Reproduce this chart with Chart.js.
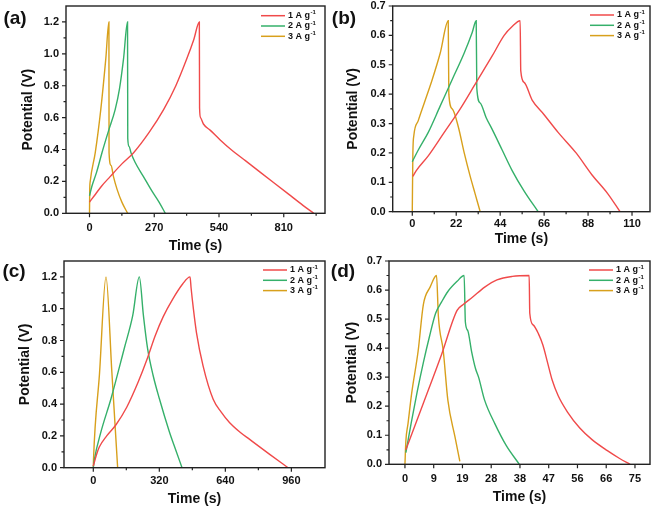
<!DOCTYPE html>
<html>
<head>
<meta charset="utf-8">
<script src="https://cdn.jsdelivr.net/npm/chart.js@4.4.0/dist/chart.umd.min.js"></script>
<style>
  html, body { margin: 0; padding: 0; background: #fff; }
  #wrap { position: relative; width: 653px; height: 509px; overflow: hidden; }
  #wrap canvas { position: absolute; left: 0; top: 0; }
</style>
</head>
<body>
<div id="wrap">
  <canvas id="pa" width="653" height="509"></canvas>
  <canvas id="pb" width="653" height="509"></canvas>
  <canvas id="pc" width="653" height="509"></canvas>
  <canvas id="pd" width="653" height="509"></canvas>
</div>
<script>
// series names and colours
var seriesLabels = ['1 A g', '2 A g', '3 A g'];
var seriesColors = ['#f04a4a', '#35b06a', '#d8a01c'];

// (a) time (s), potential (V)
var a1 = [[0,0.07],[20,0.11],[50,0.17],[86,0.23],[135,0.31],[184,0.38],[250,0.51],[309,0.65],[360,0.8],[406,0.97],[435,1.09],[458,1.2],
          [459,0.66],[463,0.6],[475,0.56],[504,0.52],[545,0.46],[590,0.4],[650,0.33],[710,0.26],[770,0.19],[830,0.12],[890,0.05],[935,0]];
var a2 = [[0,0.11],[10,0.17],[30,0.26],[52,0.38],[80,0.52],[107,0.65],[125,0.78],[142,0.97],[158.6,1.2],
          [159.5,0.47],[165,0.42],[173,0.38],[190,0.32],[225,0.23],[260,0.14],[290,0.07],[316,0]];
var a3 = [[0,0],[1,0.15],[3,0.2],[24,0.38],[47,0.65],[68,0.97],[81,1.2],
          [81.5,0.38],[90,0.3],[100,0.23],[115,0.15],[135,0.07],[159,0]];

// (b)
var b1 = [[0.3,0.12],[2,0.14],[8,0.19],[16,0.27],[24,0.35],[32,0.44],[40,0.53],[46,0.6],[50,0.63],[54,0.65],
          [54.3,0.48],[56,0.44],[60,0.38],[66,0.33],[73,0.27],[82,0.2],[90,0.125],[98,0.06],[104,0]];
var b2 = [[0,0.17],[3,0.21],[8,0.27],[14,0.36],[20,0.45],[26,0.54],[30,0.61],[32,0.65],
          [32.3,0.42],[34,0.37],[37,0.32],[40,0.28],[45,0.21],[50,0.14],[56,0.07],[63,0]];
var b3 = [[0,0],[0.3,0.2],[0.8,0.26],[3,0.31],[6,0.37],[10,0.45],[14,0.54],[18,0.65],
          [18.3,0.4],[20,0.35],[23,0.29],[26,0.2],[29,0.12],[31.5,0.06],[34,0]];

// (c)
var c1 = [[0,0.01],[15,0.08],[29,0.13],[65,0.2],[110,0.27],[162,0.38],[218,0.54],[260,0.68],[300,0.83],[339,0.95],[385,1.06],[433,1.155],[469,1.2],
          [474,1.13],[485,1.0],[500,0.85],[532,0.64],[581,0.43],[620,0.35],[661,0.283],[710,0.225],[758,0.178],[855,0.084],[944,0]];
var c2 = [[0,0],[5,0.05],[37,0.225],[86,0.435],[150,0.75],[191,0.956],[223,1.2],
          [243,0.956],[263,0.75],[290,0.58],[320,0.435],[369,0.225],[400,0.11],[430,0]];
var c3 = [[0,0],[1,0.05],[30,0.59],[61.6,1.2],
          [90,0.6],[118,0]];

// (d)
var d1 = [[0.3,0.05],[6,0.21],[12,0.38],[17,0.53],[19,0.55],[22,0.575],[26,0.61],[30,0.635],[35,0.647],[40.5,0.65],
          [40.7,0.52],[41.8,0.48],[43.5,0.45],[45,0.41],[46.5,0.35],[48,0.29],[50,0.235],[53,0.18],[57,0.125],[61,0.085],[66,0.047],[70,0.02],[73.4,0]];
var d2 = [[0.3,0.04],[2,0.14],[4,0.25],[6,0.35],[8,0.44],[10,0.52],[12,0.56],[14,0.595],[17,0.63],[19.3,0.65],
          [19.7,0.49],[20.5,0.46],[21.7,0.39],[23,0.33],[24,0.3],[26,0.22],[29.3,0.14],[33,0.065],[37.3,0]];
var d3 = [[0,0],[0.3,0.08],[1,0.14],[2.2,0.245],[4.3,0.39],[6,0.55],[8.2,0.61],[10.3,0.65],
          [10.9,0.51],[12.5,0.39],[14,0.22],[16.3,0.095],[17.9,0.01]];

// tick values
var aXTicks = [0, 270, 540, 810], aXMinor = [135, 405, 675, 945];
var bXTicks = [0, 22, 44, 66, 88, 110], bXMinor = [11, 33, 55, 77, 99];
var cXTicks = [0, 320, 640, 960], cXMinor = [160, 480, 800];
var dXTicks = [0, 9.375, 18.75, 28.125, 37.5, 46.875, 56.25, 65.625, 75], dXMinor = [];
var bigYTicks = [0, 0.2, 0.4, 0.6, 0.8, 1.0, 1.2], bigYMinor = [0.1, 0.3, 0.5, 0.7, 0.9, 1.1];
var smallYTicks = [0, 0.1, 0.2, 0.3, 0.4, 0.5, 0.6, 0.7], smallYMinor = [0.05, 0.15, 0.25, 0.35, 0.45, 0.55, 0.65];

var FONT = "'Liberation Sans', Arial, sans-serif";

// box, outward ticks, panel tag and legend
var panelDeco = {
  id: 'panelDeco',
  afterDraw: function (chart) {
    var p = chart.options.plugins.panelDeco;
    var ctx = chart.ctx, ca = chart.chartArea;
    var xs = chart.scales.x, ys = chart.scales.y;
    ctx.save();
    ctx.strokeStyle = '#222';
    ctx.lineWidth = 1.4;
    ctx.strokeRect(ca.left, ca.top, ca.right - ca.left, ca.bottom - ca.top);

    ctx.lineWidth = 1.2;
    ctx.beginPath();
    p.xMajor.concat(p.xMinor).forEach(function (v, i) {
      var len = i < p.xMajor.length ? 4 : 2.5;
      var px = xs.getPixelForValue(v);
      ctx.moveTo(px, ca.bottom);
      ctx.lineTo(px, ca.bottom + len);
    });
    p.yMajor.concat(p.yMinor).forEach(function (v, i) {
      var len = i < p.yMajor.length ? 4 : 2.5;
      var py = ys.getPixelForValue(v);
      ctx.moveTo(ca.left, py);
      ctx.lineTo(ca.left - len, py);
    });
    ctx.stroke();

    // panel tag
    ctx.fillStyle = '#111';
    ctx.font = 'bold 19px ' + FONT;
    ctx.textAlign = 'center';
    ctx.textBaseline = 'middle';
    ctx.fillText(p.tag, p.tagX, p.tagY);

    // legend
    ctx.textAlign = 'left';
    seriesLabels.forEach(function (lab, i) {
      var y = p.legY + i * 10.3;
      ctx.strokeStyle = seriesColors[i];
      ctx.lineWidth = 1.5;
      ctx.beginPath();
      ctx.moveTo(p.legX, y);
      ctx.lineTo(p.legX + 24, y);
      ctx.stroke();
      ctx.fillStyle = '#111';
      ctx.font = 'bold 9px ' + FONT;
      ctx.textBaseline = 'middle';
      ctx.fillText(lab, p.legX + 27, y);
      var w = ctx.measureText(lab).width;
      ctx.font = 'bold 6px ' + FONT;
      ctx.fillText('-1', p.legX + 27 + w + 0.5, y - 3);
    });
    ctx.restore();
  }
};

function makePanel(id, p) {
  var yw = 60;
  var left = p.box[0], right = p.box[1], top = p.box[2], bottom = p.box[3];
  var xh = p.xTitleOff + 10;
  var ctx = document.getElementById(id).getContext('2d');
  new Chart(ctx, {
    type: 'line',
    data: {
      datasets: p.series.map(function (s, i) {
        return {
          label: seriesLabels[i],
          data: s.map(function (pt) { return { x: pt[0], y: pt[1] }; }),
          borderColor: seriesColors[i],
          backgroundColor: seriesColors[i],
          borderWidth: 1.4,
          pointRadius: 0,
          cubicInterpolationMode: 'monotone',
          fill: false
        };
      })
    },
    options: {
      responsive: false,
      animation: false,
      layout: { padding: { left: left - yw, right: 653 - right, top: top, bottom: 509 - bottom - xh } },
      plugins: {
        legend: { display: false },
        tooltip: { enabled: false },
        panelDeco: {
          tag: p.tag, tagX: p.tagX, tagY: p.tagY, legX: p.legX, legY: p.legY,
          xMajor: p.xTicks, xMinor: p.xMinor, yMajor: p.yTicks, yMinor: p.yMinor
        }
      },
      scales: {
        x: {
          type: 'linear', min: p.xMin, max: p.xMax,
          afterFit: function (s) { s.height = xh; s.paddingLeft = 0; s.paddingRight = 0; },
          afterBuildTicks: function (s) { s.ticks = p.xTicks.map(function (v) { return { value: v }; }); },
          grid: { display: false, drawTicks: false },
          border: { display: false },
          ticks: {
            autoSkip: false, maxRotation: 0, color: '#111',
            padding: p.xLabelOff - 6.6,
            font: { family: FONT, size: 11, weight: 'bold' },
            callback: function (v) { return String(Math.round(v)); }
          },
          title: {
            display: true, text: 'Time (s)', color: '#111',
            font: { family: FONT, size: 14, weight: 'bold' },
            padding: { top: 0, bottom: xh - p.xTitleOff - 8.4 }
          }
        },
        y: {
          type: 'linear', min: 0, max: p.yMax,
          afterFit: function (s) { s.width = yw; s.paddingTop = 0; s.paddingBottom = 0; },
          afterBuildTicks: function (s) { s.ticks = p.yTicks.map(function (v) { return { value: v }; }); },
          grid: { display: false, drawTicks: false },
          border: { display: false },
          ticks: {
            autoSkip: false, color: '#111', padding: 7,
            font: { family: FONT, size: 11, weight: 'bold' },
            callback: function (v) { return v.toFixed(1); }
          },
          title: {
            display: true, text: 'Potential (V)', color: '#111',
            font: { family: FONT, size: 14, weight: 'bold' },
            padding: { top: p.yTitleX - (left - yw) - 8.4, bottom: 0 }
          }
        }
      }
    },
    plugins: [panelDeco]
  });
}

makePanel('pa', {
  series: [a1, a2, a3], box: [66, 325, 6, 213.3], xMin: -98, xMax: 982, yMax: 1.3,
  xTicks: aXTicks, xMinor: aXMinor, yTicks: bigYTicks, yMinor: bigYMinor,
  xLabelOff: 15, xTitleOff: 33, yTitleX: 28, tag: '(a)', tagX: 15, tagY: 19, legX: 261, legY: 15.7
});
makePanel('pb', {
  series: [b1, b2, b3], box: [392.7, 650, 6, 211.7], xMin: -9.8, xMax: 119, yMax: 0.7,
  xTicks: bXTicks, xMinor: bXMinor, yTicks: smallYTicks, yMinor: smallYMinor,
  xLabelOff: 12.3, xTitleOff: 27.6, yTitleX: 353.3, tag: '(b)', tagX: 344, tagY: 18.3, legX: 590, legY: 15
});
makePanel('pc', {
  series: [c1, c2, c3], box: [64, 325, 261, 467.7], xMin: -142, xMax: 1123, yMax: 1.3,
  xTicks: cXTicks, xMinor: cXMinor, yTicks: bigYTicks, yMinor: bigYMinor,
  xLabelOff: 13.3, xTitleOff: 31.6, yTitleX: 25, tag: '(c)', tagX: 14, tagY: 272, legX: 263, legY: 270
});
makePanel('pd', {
  series: [d1, d2, d3], box: [389, 650, 261, 464.3], xMin: -5.2, xMax: 79.9, yMax: 0.7,
  xTicks: dXTicks, xMinor: dXMinor, yTicks: smallYTicks, yMinor: smallYMinor,
  xLabelOff: 15, xTitleOff: 32.4, yTitleX: 351.7, tag: '(d)', tagX: 343, tagY: 272, legX: 589, legY: 270
});
</script>
</body>
</html>
